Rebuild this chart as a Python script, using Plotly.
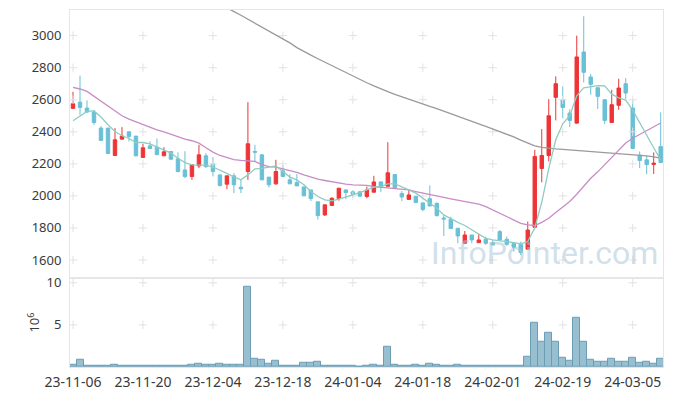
import plotly.graph_objects as go
from plotly.subplots import make_subplots

# ---------------- data ----------------
dates = [
    "23-11-06", "23-11-07", "23-11-08", "23-11-09", "23-11-10", "23-11-13", "23-11-14", "23-11-15",
    "23-11-16", "23-11-17", "23-11-20", "23-11-21", "23-11-22", "23-11-23", "23-11-24", "23-11-27",
    "23-11-28", "23-11-29", "23-11-30", "23-12-01", "23-12-04", "23-12-05", "23-12-06", "23-12-07",
    "23-12-08", "23-12-11", "23-12-12", "23-12-13", "23-12-14", "23-12-15", "23-12-18", "23-12-19",
    "23-12-20", "23-12-21", "23-12-22", "23-12-26", "23-12-27", "23-12-28", "24-01-02", "24-01-03",
    "24-01-04", "24-01-05", "24-01-08", "24-01-09", "24-01-10", "24-01-11", "24-01-12", "24-01-15",
    "24-01-16", "24-01-17", "24-01-18", "24-01-19", "24-01-22", "24-01-23", "24-01-24", "24-01-25",
    "24-01-26", "24-01-29", "24-01-30", "24-01-31", "24-02-01", "24-02-02", "24-02-05", "24-02-06",
    "24-02-07", "24-02-08", "24-02-13", "24-02-14", "24-02-15", "24-02-16", "24-02-19", "24-02-20",
    "24-02-21", "24-02-22", "24-02-23", "24-02-26", "24-02-27", "24-02-28", "24-02-29", "24-03-04",
    "24-03-05", "24-03-06", "24-03-07", "24-03-08", "24-03-11",
]

open_ = [2546, 2585, 2548, 2523, 2423, 2423, 2252, 2354, 2400, 2373,
         2240, 2312, 2304, 2250, 2277, 2231, 2162, 2121, 2187, 2250,
         2200, 2131, 2073, 2125, 2054, 2152, 2277, 2256, 2117, 2075,
         2156, 2100, 2083, 2056, 2037, 1963, 1881, 1940, 1983, 2037,
         2025, 2025, 1996, 2023, 2087, 2060, 2133, 2015, 1978, 1998,
         1956, 1982, 1953, 1862, 1854, 1798, 1704, 1756, 1708, 1729,
         1708, 1777, 1729, 1704, 1698, 1667, 1804, 2171, 2252, 2615,
         2600, 2517, 2454, 2898, 2742, 2675, 2600, 2458, 2565, 2700,
         2548, 2254, 2225, 2196, 2308]
high = [2650, 2750, 2596, 2537, 2435, 2423, 2423, 2429, 2400, 2373,
        2325, 2340, 2358, 2304, 2277, 2272, 2279, 2194, 2319, 2267,
        2242, 2131, 2125, 2142, 2104, 2585, 2319, 2260, 2117, 2225,
        2190, 2135, 2135, 2056, 2037, 1963, 1944, 1992, 2048, 2042,
        2035, 2030, 2058, 2125, 2090, 2335, 2133, 2030, 2042, 2000,
        1960, 2065, 1960, 1880, 1870, 1798, 1781, 1756, 1762, 1746,
        1725, 1787, 1746, 1704, 1715, 1840, 2287, 2417, 2604, 2746,
        2683, 2540, 3000, 3121, 2760, 2675, 2600, 2662, 2731, 2735,
        2604, 2277, 2250, 2271, 2521]
low = [2546, 2506, 2517, 2444, 2344, 2262, 2252, 2354, 2340, 2246,
       2240, 2292, 2252, 2250, 2223, 2146, 2110, 2100, 2173, 2173,
       2121, 2058, 2042, 2017, 2017, 2100, 2215, 2100, 2052, 2069,
       2121, 2075, 2062, 2000, 1968, 1852, 1875, 1940, 1970, 1979,
       1990, 1996, 1985, 2023, 2025, 2060, 2050, 1967, 1978, 1958,
       1904, 1935, 1870, 1750, 1794, 1704, 1704, 1704, 1708, 1694,
       1690, 1720, 1688, 1652, 1631, 1667, 1798, 2085, 2215, 2471,
       2485, 2429, 2450, 2708, 2631, 2542, 2448, 2458, 2537, 2604,
       2296, 2173, 2135, 2137, 2208]
close = [2575, 2552, 2523, 2458, 2346, 2265, 2350, 2373, 2371, 2250,
         2300, 2296, 2258, 2275, 2229, 2152, 2121, 2194, 2256, 2183,
         2152, 2065, 2125, 2069, 2044, 2325, 2273, 2100, 2069, 2152,
         2121, 2075, 2062, 2000, 1983, 1877, 1944, 1985, 2048, 2021,
         2010, 1998, 2037, 2087, 2056, 2144, 2050, 1993, 2006, 1958,
         1915, 1937, 1877, 1856, 1796, 1750, 1756, 1725, 1725, 1704,
         1694, 1725, 1698, 1679, 1646, 1787, 2246, 2252, 2500, 2700,
         2552, 2471, 2867, 2771, 2696, 2621, 2471, 2569, 2673, 2642,
         2296, 2221, 2196, 2204, 2208]

ma_short = [2469, 2496, 2527, 2530, 2492, 2444, 2402, 2375, 2358, 2333,
            2333, 2325, 2304, 2283, 2267, 2235, 2208, 2194, 2192, 2192,
            2180, 2162, 2140, 2118, 2100, 2131, 2169, 2172, 2179, 2187,
            2152, 2117, 2100, 2069, 2027, 1996, 1975, 1969, 1979, 1992,
            2006, 2020, 2037, 2054, 2058, 2075, 2075, 2058, 2037, 2017,
            1985, 1958, 1923, 1881, 1856, 1835, 1815, 1787, 1762, 1735,
            1725, 1721, 1715, 1708, 1700, 1715, 1800, 1960, 2170, 2350,
            2450, 2500, 2625, 2674, 2680, 2688, 2687, 2635, 2612, 2598,
            2535, 2455, 2380, 2300, 2225]
ma_mid = [2677, 2667, 2652, 2621, 2590, 2558, 2527, 2500, 2479, 2462,
          2450, 2429, 2412, 2400, 2385, 2368, 2354, 2344, 2329, 2300,
          2273, 2252, 2237, 2226, 2221, 2220, 2215, 2195, 2182, 2179,
          2169, 2156, 2146, 2131, 2117, 2104, 2096, 2087, 2079, 2073,
          2069, 2067, 2065, 2058, 2054, 2048, 2048, 2042, 2037, 2027,
          2017, 2006, 1996, 1990, 1981, 1973, 1968, 1958, 1948, 1933,
          1912, 1892, 1871, 1850, 1829, 1819, 1815, 1835, 1860, 1896,
          1933, 1965, 2010, 2060, 2110, 2150, 2195, 2240, 2290, 2330,
          2360, 2385, 2410, 2432, 2455]
ma_long = [None] * 20 + [
    3220, 3195, 3172, 3150, 3127, 3103, 3080, 3056, 3030, 3005,
    2980, 2955, 2925, 2900, 2878, 2856, 2834, 2811, 2789, 2767,
    2746, 2726, 2706, 2686, 2667, 2650, 2634, 2618, 2602, 2587,
    2572, 2558, 2545, 2530, 2515, 2498, 2482, 2466, 2450, 2434,
    2418, 2402, 2386, 2368, 2348, 2328, 2312, 2303, 2297, 2293,
    2290, 2287, 2284, 2281, 2278, 2275, 2272, 2269, 2266, 2263,
    2259, 2255, 2250, 2244, 2235]

volume_m = [0.23, 0.82, 0.12, 0.2, 0.12, 0.12, 0.22, 0.12, 0.12, 0.2,
            0.12, 0.12, 0.2, 0.12, 0.12, 0.2, 0.12, 0.22, 0.35, 0.22,
            0.22, 0.35, 0.22, 0.22, 0.22, 9.5, 0.94, 0.82, 0.35, 0.7,
            0.2, 0.2, 0.2, 0.47, 0.47, 0.59, 0.2, 0.1, 0.1, 0.1,
            0.1, 0.0, 0.12, 0.25, 0.12, 2.4, 0.25, 0.1, 0.1, 0.25,
            0.1, 0.38, 0.25, 0.1, 0.1, 0.25, 0.1, 0.1, 0.1, 0.1,
            0.1, 0.1, 0.1, 0.1, 0.1, 1.2, 5.2, 3.0, 4.1, 3.0,
            1.1, 0.74, 5.9, 3.0, 0.86, 0.62, 0.62, 0.98, 0.62, 0.62,
            1.1, 0.5, 0.62, 0.39, 0.98]

price_ticks = [1600, 1800, 2000, 2200, 2400, 2600, 2800, 3000]
volume_ticks = [5, 10]
x_ticks = dates[::10]

# ---------------- styles ----------------
UP = "#ee3436"
DOWN = "#69c0d7"
GRID = "#e2e2e2"
BORDER = "#e6e6e6"
TXT = "#3a3a3a"
FONT = "Noto Sans"

fig = make_subplots(rows=2, cols=1, shared_xaxes=True, vertical_spacing=0,
                    row_heights=[0.75, 0.25])

# cross-shaped grid markers at tick intersections
gx = [d for _ in price_ticks for d in x_ticks]
gy = [p for p in price_ticks for _ in x_ticks]
fig.add_trace(go.Scatter(x=gx, y=gy, mode="markers", hoverinfo="skip",
                         marker=dict(symbol="cross-thin", size=6,
                                     line=dict(color=GRID, width=1))), row=1, col=1)
vgx = [d for _ in volume_ticks for d in x_ticks]
vgy = [v for v in volume_ticks for _ in x_ticks]
fig.add_trace(go.Scatter(x=vgx, y=vgy, mode="markers", hoverinfo="skip",
                         marker=dict(symbol="cross-thin", size=6,
                                     line=dict(color=GRID, width=1))), row=2, col=1)

fig.add_trace(go.Scatter(x=dates, y=ma_long, mode="lines",
                         line=dict(color="#9a9a9a", width=1.3)), row=1, col=1)
fig.add_trace(go.Scatter(x=dates, y=ma_mid, mode="lines",
                         line=dict(color="#c98cc6", width=1.3)), row=1, col=1)
fig.add_trace(go.Scatter(x=dates, y=ma_short, mode="lines",
                         line=dict(color="#8ecdc0", width=1.3)), row=1, col=1)

fig.add_trace(go.Candlestick(
    x=dates, open=open_, high=high, low=low, close=close,
    increasing=dict(line=dict(color=UP, width=1), fillcolor=UP),
    decreasing=dict(line=dict(color=DOWN, width=1), fillcolor=DOWN),
    whiskerwidth=0), row=1, col=1)

fig.add_trace(go.Bar(x=dates, y=volume_m,
                     marker=dict(color="#97bfd0", line=dict(color="#6b9db4", width=1))),
              row=2, col=1)

# the page body adds an 8px offset; size the figure so the plot lands where the reference has it
fig.update_layout(
    width=665, height=388,
    margin=dict(l=62, r=10, t=2, b=29),
    paper_bgcolor="white", plot_bgcolor="white",
    showlegend=False, bargap=0,
    font=dict(family=FONT, size=13, color=TXT),
    annotations=[
        dict(text="InfoPointer.com", xref="paper", yref="paper",
             x=0.80, y=0.318, xanchor="center", yanchor="middle",
             showarrow=False,
             font=dict(family="Roboto", size=32, color="rgba(170,198,216,0.55)")),
        dict(text="10<sup>6</sup>", xref="paper", yref="paper",
             x=-0.062, y=0.125, xanchor="center", yanchor="middle",
             textangle=-90, showarrow=False,
             font=dict(family=FONT, size=13, color=TXT)),
    ],
)

xr = [-0.43, 84.33]
fig.update_xaxes(type="category", categoryorder="array", categoryarray=dates,
                 range=xr, showgrid=False, zeroline=False, automargin=False,
                 showline=True, mirror=True, linecolor=BORDER, linewidth=1,
                 rangeslider_visible=False, tickvals=x_ticks, ticktext=x_ticks,
                 tickangle=0)
fig.update_xaxes(showticklabels=False, ticks="", row=1, col=1)
fig.update_xaxes(showticklabels=True, ticks="outside", ticklen=2,
                 tickcolor="rgba(0,0,0,0)", tickfont=dict(size=14, color=TXT),
                 row=2, col=1)

fig.update_yaxes(range=[1489, 3160], tickvals=price_ticks, showgrid=False,
                 zeroline=False, showline=True, mirror=True, linecolor=BORDER,
                 automargin=False,
                 ticks="outside", ticklen=5, tickcolor="rgba(0,0,0,0)",
                 tickfont=dict(size=13, color=TXT), row=1, col=1)
fig.update_yaxes(range=[0, 10.6], tickvals=volume_ticks, showgrid=False,
                 zeroline=False, showline=True, mirror=True, linecolor=BORDER,
                 automargin=False,
                 ticks="outside", ticklen=5, tickcolor="rgba(0,0,0,0)",
                 tickfont=dict(size=13, color=TXT), row=2, col=1)

fig.write_html("out.html")
